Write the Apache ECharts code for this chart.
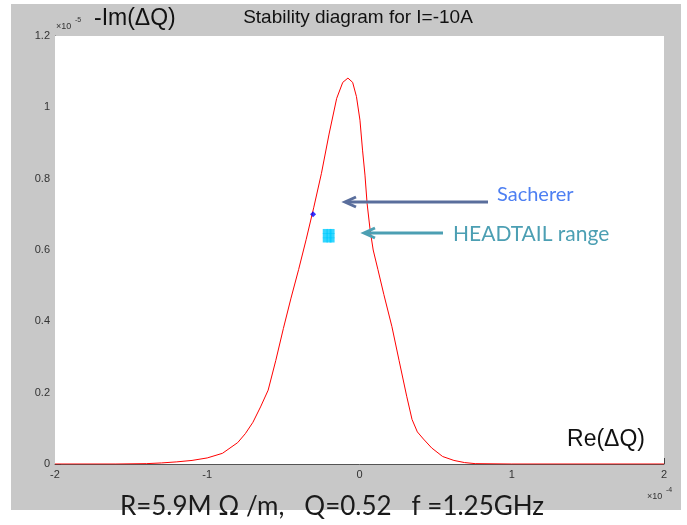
<!DOCTYPE html>
<html>
<head>
<meta charset="utf-8">
<script src="https://cdn.jsdelivr.net/npm/echarts@6/dist/echarts.min.js"></script>
<style>
html,body{margin:0;padding:0;background:#fff;}
#chart{width:687px;height:525px;}
</style>
</head>
<body>
<div id="chart"></div>
<script>
// Re(ΔQ) in units of 1e-4, -Im(ΔQ) in units of 1e-5
const curveX = [-2, -1.6, -1.4, -1.3, -1.2, -1.1, -1.0, -0.9, -0.8, -0.75, -0.7, -0.65, -0.6, -0.55, -0.5, -0.45, -0.4, -0.35, -0.3, -0.25, -0.2, -0.15, -0.11, -0.076, -0.045, -0.02, 0.003, 0.02, 0.036, 0.05, 0.07, 0.09, 0.121, 0.16, 0.213, 0.26, 0.31, 0.345, 0.38, 0.42, 0.474, 0.546, 0.62, 0.69, 0.76, 1.0, 2.0];
const curveY = [0, 0, 0.001, 0.003, 0.006, 0.010, 0.017, 0.030, 0.060, 0.085, 0.117, 0.16, 0.207, 0.29, 0.38, 0.465, 0.545, 0.63, 0.72, 0.815, 0.925, 1.025, 1.07, 1.082, 1.07, 1.03, 0.964, 0.88, 0.81, 0.73, 0.655, 0.60, 0.545, 0.475, 0.385, 0.29, 0.19, 0.125, 0.09, 0.07, 0.045, 0.021, 0.01, 0.004, 0.001, 0, 0];
const sachererX = [-0.305];
const sachererY = [0.70];
const headtailX = [-0.225, -0.2, -0.18, -0.225, -0.2, -0.18, -0.225, -0.2, -0.18];
const headtailY = [0.652, 0.652, 0.652, 0.64, 0.64, 0.64, 0.628, 0.628, 0.628];
const xTicks = [-2, -1, 0, 1, 2];
const yTicks = [0, 0.2, 0.4, 0.6, 0.8, 1, 1.2];

const zip = (a, b) => a.map((v, i) => [v, b[i]]);
const chart = echarts.init(document.getElementById('chart'), null, {renderer: 'canvas'});
const axisFont = {fontFamily: 'Liberation Sans, Arial, sans-serif', fontSize: 11, color: '#333'};
const gill = 'Lato, "Open Sans", sans-serif';

chart.setOption({
  animation: false,
  backgroundColor: '#ffffff',
  grid: {left: 55, right: 23, top: 36, bottom: 61, show: true, backgroundColor: '#ffffff', borderWidth: 0, z: 1},
  xAxis: {
    type: 'value', min: xTicks[0], max: xTicks[xTicks.length - 1], interval: 1,
    axisLine: {show: true, onZero: false, lineStyle: {color: '#555', width: 1}},
    axisTick: {show: true, inside: true, length: 6, lineStyle: {color: '#444'}},
    axisLabel: Object.assign({margin: 5, formatter: v => String(v)}, axisFont),
    splitLine: {show: false}
  },
  yAxis: {
    type: 'value', min: yTicks[0], max: yTicks[yTicks.length - 1], interval: 0.2,
    axisLine: {show: true, onZero: false, lineStyle: {color: '#555', width: 1}},
    axisTick: {show: true, inside: true, length: 6, lineStyle: {color: '#444'}},
    axisLabel: Object.assign({margin: 5, formatter: v => String(+v.toFixed(1))}, axisFont),
    splitLine: {show: false}
  },
  graphic: [
    {type: 'rect', z: -100, shape: {x: 11, y: 4, width: 670, height: 506}, style: {fill: '#c8c8c8'}},
    {type: 'text', z: 100, style: {text: 'Stability diagram for I=-10A', x: 358, y: 18, align: 'center', verticalAlign: 'middle', font: '19px "Liberation Sans", Arial, sans-serif', fill: '#111'}},
    {type: 'text', z: 100, style: {text: '-Im(ΔQ)', x: 94, y: 19, verticalAlign: 'middle', font: '23px "Liberation Sans", Arial, sans-serif', fill: '#111'}},
    {type: 'text', z: 100, style: {text: '×10', x: 56, y: 27, verticalAlign: 'middle', font: '9px "Liberation Sans", Arial, sans-serif', fill: '#333'}},
    {type: 'text', z: 100, style: {text: '-5', x: 75, y: 20, verticalAlign: 'middle', font: '7px "Liberation Sans", Arial, sans-serif', fill: '#333'}},
    {type: 'text', z: 100, style: {text: 'Re(ΔQ)', x: 645, y: 440, align: 'right', verticalAlign: 'middle', font: '23px "Liberation Sans", Arial, sans-serif', fill: '#111'}},
    {type: 'text', z: 100, style: {text: '×10', x: 647, y: 497, verticalAlign: 'middle', font: '9px "Liberation Sans", Arial, sans-serif', fill: '#333'}},
    {type: 'text', z: 100, style: {text: '-4', x: 666, y: 490, verticalAlign: 'middle', font: '7px "Liberation Sans", Arial, sans-serif', fill: '#333'}},
    {type: 'text', z: 100, style: {text: 'R=5.9M Ω /m,   Q=0.52   f =1.25GHz', x: 332, y: 507, align: 'center', verticalAlign: 'middle', font: '26px ' + gill, fill: '#1a1a1a'}},
    // Sacherer arrow
    {type: 'line', z: 100, shape: {x1: 346, y1: 202, x2: 488, y2: 202}, style: {stroke: '#5a6e9c', lineWidth: 3}},
    {type: 'polyline', z: 100, shape: {points: [[356, 197], [345, 202], [356, 207]]}, style: {stroke: '#5a6e9c', lineWidth: 3, fill: null}},
    {type: 'text', z: 100, style: {text: 'Sacherer', x: 497, y: 195, verticalAlign: 'middle', font: '20px ' + gill, fill: '#4d7ff2'}},
    // HEADTAIL arrow
    {type: 'line', z: 100, shape: {x1: 366, y1: 233, x2: 443, y2: 233}, style: {stroke: '#4c9fb3', lineWidth: 3}},
    {type: 'polyline', z: 100, shape: {points: [[375, 228], [364, 233], [375, 238]]}, style: {stroke: '#4c9fb3', lineWidth: 3, fill: null}},
    {type: 'text', z: 100, style: {text: 'HEADTAIL range', x: 453, y: 234, verticalAlign: 'middle', font: '21px ' + gill, fill: '#4c9fb3'}}
  ],
  series: [
    {type: 'line', data: zip(curveX, curveY), showSymbol: false, smooth: false, lineStyle: {color: '#ff0000', width: 1}, z: 3},
    {type: 'scatter', data: zip(sachererX, sachererY), symbol: 'diamond', symbolSize: 6, itemStyle: {color: '#0000ff'}, z: 4},
    {type: 'scatter', data: zip(headtailX, headtailY), symbol: 'rect', symbolSize: 5, itemStyle: {color: '#00ccff'}, z: 4}
  ]
});
</script>
</body>
</html>
